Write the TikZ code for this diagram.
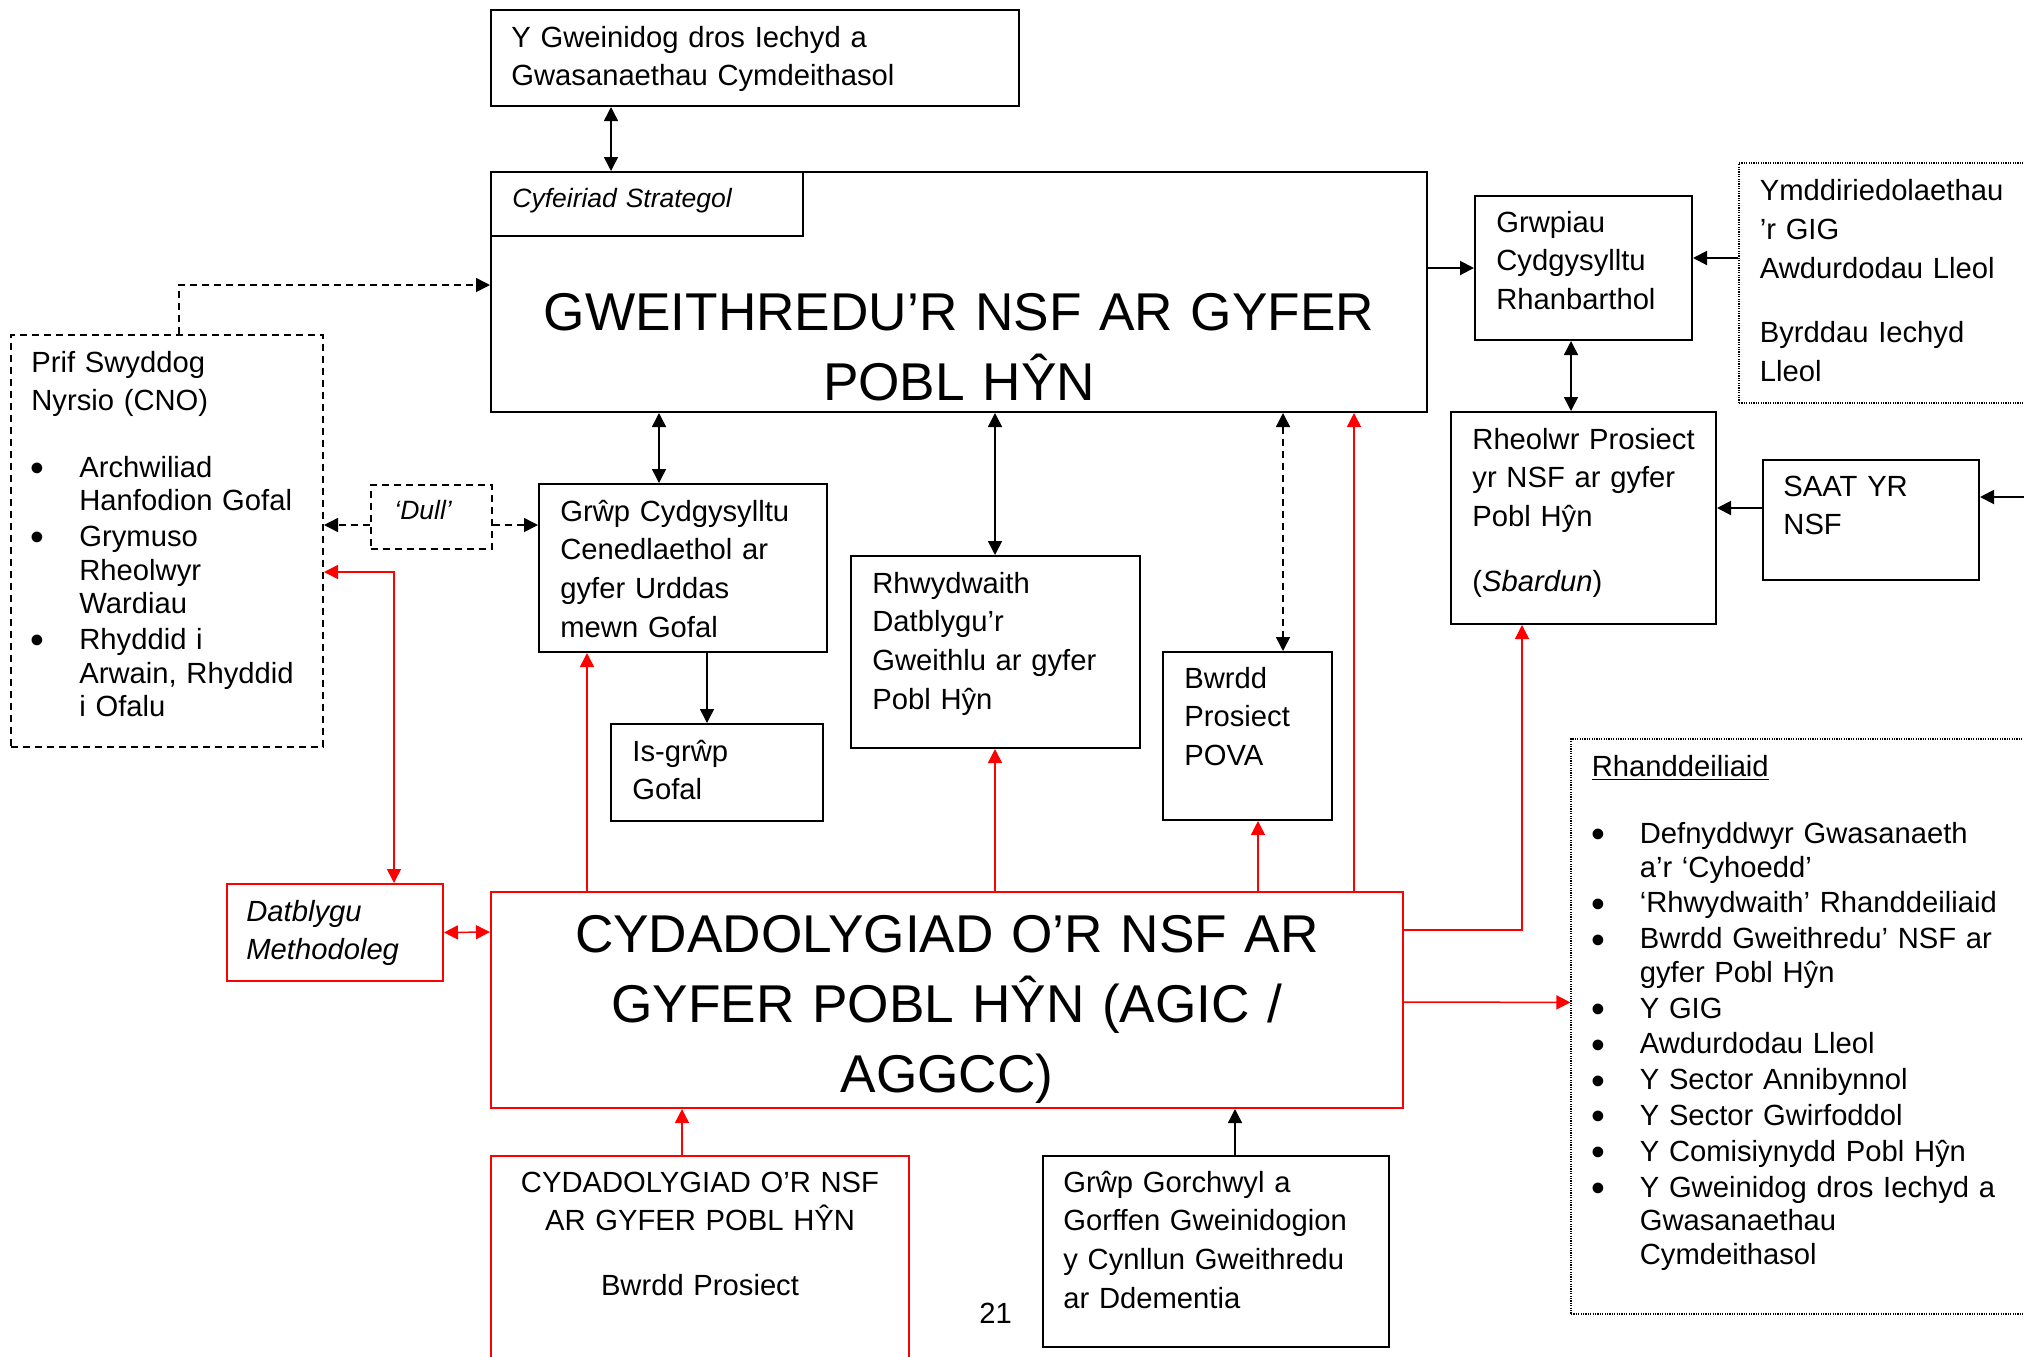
\documentclass[tikz,border=0pt]{standalone}
\usepackage{fontspec}
\usepackage{graphicx}
\setmainfont{Liberation Sans}
\usetikzlibrary{arrows.meta,fit,calc}
\newcommand\itembul{\leavevmode\llap{\raisebox{-2.2pt}{\scalebox{1.35}{•}}\hspace{17.5pt}}}

\begin{document}
\begin{tikzpicture}[x=0.5pt,y=-0.5pt,
    box/.style={draw, line width=1pt, inner sep=0pt},
    redbox/.style={box, draw=red},
    dashbox/.style={box, dash pattern=on 3.5pt off 2.5pt},
    dotbox/.style={draw, inner sep=0pt, line width=0.6pt, dash pattern=on 0.6pt off 0.6pt},
    txt/.style={inner sep=0pt, anchor=base west, text width=300pt, align=left, font=\fontsize{14.6pt}{19.4pt}\selectfont},
    itxt/.style={txt, font=\fontsize{13.25pt}{19.4pt}\selectfont\itshape},
    bullets/.style={txt, font=\fontsize{14.6pt}{16.8pt}\selectfont},
    big/.style={inner sep=0pt, anchor=base, align=center, font=\fontsize{26.6pt}{35pt}\selectfont},
    conn/.style={line width=0.75pt, -{Triangle[length=7pt,width=7pt]}},
    twoway/.style={line width=0.75pt, {Triangle[length=7pt,width=7pt]}-{Triangle[length=7pt,width=7pt]}},
    heavy/.style={conn, line width=1pt},
    dsh/.style={dash pattern=on 3.5pt off 2.5pt}]
    \clip (0,0) rectangle (2024,1356);

    \node[box, fit={(491,10)(1019,106)}] (gwein) {};
    \node[box, fit={(491,172)(1427,412)}] (main) {};
    \node[box, fit={(491,172)(803,236)}] (cyf) {};
    \node[box, fit={(1475,196)(1692,340)}] (grwpiau) {};
    \node[dotbox, fit={(1739,163)(2060,403)}] (ymdd) {};
    \node[box, fit={(1451,412)(1716,624)}] (rheolwr) {};
    \node[box, fit={(1763,460)(1979,580)}] (saat) {};
    \node[dashbox, fit={(11,335)(323,747)}] (cno) {};
    \node[dashbox, fit={(371,485)(492,549)}] (dull) {};
    \node[box, fit={(539,484)(827,652)}] (grwp) {};
    \node[box, fit={(611,724)(823,821)}] (isgrwp) {};
    \node[box, fit={(851,556)(1140,748)}] (rhwyd) {};
    \node[box, fit={(1163,652)(1332,820)}] (pova) {};
    \node[redbox, fit={(491,892)(1403,1108)}] (cydad) {};
    \node[redbox, fit={(227,884)(443,981)}] (datb) {};
    \node[dotbox, fit={(1571,739)(2060,1314)}] (rhand) {};
    \node[redbox, fit={(491,1156)(909,1400)}] (bwrdd) {};
    \node[box, fit={(1043,1156)(1389,1347)}] (gorch) {};

    \node[txt] (gwein-t) at ($(gwein.north west)+(21,38)$) {Y Gweinidog dros Iechyd a\\Gwasanaethau Cymdeithasol};
    \node[itxt] (cyf-t) at ($(cyf.north west)+(22,36)$) {Cyfeiriad Strategol};
    \node[big, text width=460pt] (main-t) at ($(main.north)+(0,159)$) {GWEITHREDU’R NSF AR GYFER\\POBL HŶN};
    \node[txt] (grwpiau-t) at ($(grwpiau.north west)+(22,37)$) {Grwpiau\\Cydgysylltu\\Rhanbarthol};
    \node[txt] (ymdd-t) at ($(ymdd.north west)+(21,38)$) {Ymddiriedolaethau\\’r GIG\\Awdurdodau Lleol\\[13pt]Byrddau Iechyd\\Lleol};
    \node[txt] (rheolwr-t) at ($(rheolwr.north west)+(22,38)$) {Rheolwr Prosiect\\yr NSF ar gyfer\\Pobl Hŷn\\[13pt](\textit{Sbardun})};
    \node[txt] (saat-t) at ($(saat.north west)+(21,37)$) {SAAT YR\\NSF};
    \node[txt] (cno-t) at ($(cno.north west)+(21,38)$) {Prif Swyddog\\Nyrsio (CNO)};
    \node[bullets] (cno-l) at ($(cno.north west)+(69,143)$) {\itembul Archwiliad\\Hanfodion Gofal\\[1.1pt]\itembul Grymuso\\Rheolwyr\\Wardiau\\[1.1pt]\itembul Rhyddid i\\Arwain, Rhyddid\\i Ofalu};
    \node[itxt] (dull-t) at ($(dull.north west)+(24,35)$) {‘Dull’};
    \node[txt] (grwp-t) at ($(grwp.north west)+(22,38)$) {Grŵp Cydgysylltu\\Cenedlaethol ar\\gyfer Urddas\\mewn Gofal};
    \node[txt] (isgrwp-t) at ($(isgrwp.north west)+(22,38)$) {Is-grŵp\\Gofal};
    \node[txt] (rhwyd-t) at ($(rhwyd.north west)+(22,38)$) {Rhwydwaith\\Datblygu’r\\Gweithlu ar gyfer\\Pobl Hŷn};
    \node[txt] (pova-t) at ($(pova.north west)+(22,37)$) {Bwrdd\\Prosiect\\POVA};
    \node[big, text width=450pt] (cydad-t) at ($(cydad.north)+(0,61)$) {CYDADOLYGIAD O’R NSF AR\\GYFER POBL HŶN (AGIC /\\AGGCC)};
    \node[itxt, font=\fontsize{14.6pt}{19pt}\selectfont\itshape] (datb-t) at ($(datb.north west)+(20,38)$) {Datblygu\\Methodoleg};
    \node[txt] (rhand-h) at ($(rhand.north west)+(21,38)$) {\underline{Rhanddeiliaid}};
    \node[bullets] (rhand-l) at ($(rhand.north west)+(69,105)$) {\itembul Defnyddwyr Gwasanaeth\\a’r ‘Cyhoedd’\\[1.1pt]\itembul ‘Rhwydwaith’ Rhanddeiliaid\\[1.1pt]\itembul Bwrdd Gweithredu’ NSF ar\\gyfer Pobl Hŷn\\[1.1pt]\itembul Y GIG\\[1.1pt]\itembul Awdurdodau Lleol\\[1.1pt]\itembul Y Sector Annibynnol\\[1.1pt]\itembul Y Sector Gwirfoddol\\[1.1pt]\itembul Y Comisiynydd Pobl Hŷn\\[1.1pt]\itembul Y Gweinidog dros Iechyd a\\Gwasanaethau\\Cymdeithasol};
    \node[txt, anchor=base, align=center, text width=200pt] (bwrdd-t) at ($(bwrdd.north)+(0,37)$) {CYDADOLYGIAD O’R NSF\\AR GYFER POBL HŶN\\[13pt]Bwrdd Prosiect};
    \node[txt] (gorch-t) at ($(gorch.north west)+(21,37)$) {Grŵp Gorchwyl a\\Gorffen Gweinidogion\\y Cynllun Gweithredu\\ar Ddementia};
    \node[txt, text width=] (pagenum) at (979,1323) {21};

    \draw[twoway] ($(gwein.south west)+(121,0)$) -- ($(main.north west)+(121,0)$);
    \draw[conn, dsh] ($(cno.north west)+(169,0)$) |- ($(main.west)+(0,-7)$);
    \draw[heavy] ($(main.east)+(0,-24)$) -- (grwpiau.west);
    \draw[heavy] ($(ymdd.west)+(0,-25)$) -- ($(grwpiau.east)+(0,-10)$);
    \draw[twoway] ($(grwpiau.south west)+(97,0)$) -- ($(rheolwr.north west)+(121,0)$);
    \draw[heavy] ($(saat.west)+(0,-12)$) -- ($(rheolwr.east)+(0,-10)$);
    \draw[heavy] ($(saat.east)+(60,-23)$) -- ($(saat.east)+(0,-23)$);
    \draw[conn, dsh] ($(dull.west)+(0,8)$) -- ($(cno.east)+(0,-16)$);
    \draw[conn, dsh] ($(dull.east)+(0,8)$) -- ($(grwp.west)+(0,-43)$);
    \draw[twoway] ($(main.south west)+(169,0)$) -- ($(grwp.north west)+(121,0)$);
    \draw[conn] ($(grwp.south west)+(169,0)$) -- ($(isgrwp.north west)+(97,0)$);
    \draw[twoway] ($(main.south west)+(505,0)$) -- ($(rhwyd.north west)+(145,0)$);
    \draw[twoway, dsh] ($(main.south west)+(793,0)$) -- ($(pova.north west)+(121,0)$);
    \draw[conn, red] ($(cydad.north west)+(864,0)$) -- ($(main.south west)+(864,0)$);
    \draw[conn, red] ($(cydad.north west)+(97,0)$) -- ($(grwp.south west)+(49,0)$);
    \draw[conn, red] ($(cydad.north west)+(505,0)$) -- ($(rhwyd.south west)+(145,0)$);
    \draw[conn, red] ($(cydad.north west)+(768,0)$) -- ($(pova.south west)+(96,0)$);
    \draw[conn, red] ($(cydad.north east)+(0,39)$) -| ($(rheolwr.south west)+(72,0)$);
    \draw[conn, red] ($(cydad.north east)+(0,111)$) -- ($(rhand.north west)+(0,264)$);
    \draw[twoway, red] ($(cno.north east)+(0,238)$) -| ($(datb.north west)+(168,0)$);
    \draw[twoway, red] (datb.east) -- ($(cydad.north west)+(0,41)$);
    \draw[conn, red] ($(bwrdd.north west)+(192,0)$) -- ($(cydad.south west)+(192,0)$);
    \draw[conn] ($(gorch.north west)+(193,0)$) -- ($(cydad.south west)+(745,0)$);
\end{tikzpicture}
\end{document}
